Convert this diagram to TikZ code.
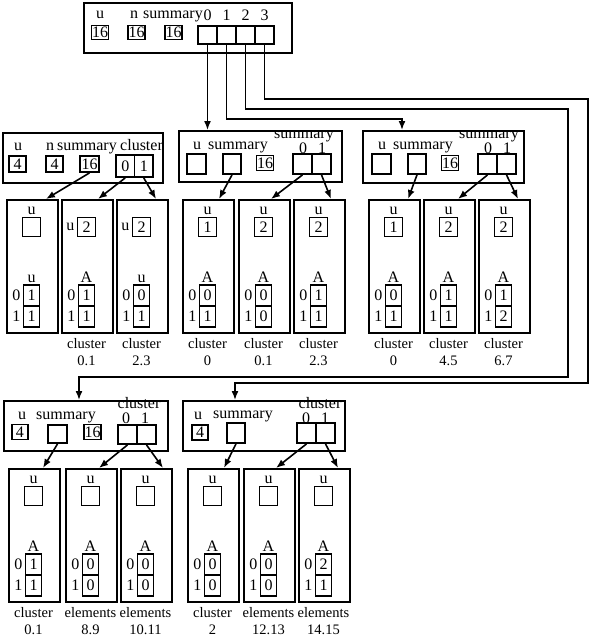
\documentclass[tikz,border=0pt]{standalone}
\usepackage{fontspec}
\setmainfont{Liberation Serif}
\usetikzlibrary{arrows.meta}

\tikzset{
  hbox/.style={draw, line width=2pt, anchor=north west, inner sep=0pt},
  cbox/.style={draw, line width=2pt, anchor=north west, inner sep=0pt,
    minimum width=51, minimum height=133},
  vbox/.style={draw, line width=1.8pt, inner sep=0pt, minimum width=18, minimum height=19},
  acell/.style={draw, line width=1.8pt, inner sep=0pt, minimum width=16, minimum height=21},
  tag/.style={inner sep=0pt},
  link/.style={-{Latex[length=9pt,width=7pt]}, line width=1.6pt}
}

% one cluster: name, left, top, u value, side of u, array title, A[0], A[1], caption
\newcommand{\clus}[9]{%
  \node[cbox] (#1) at (#2,#3) {};
  \node[vbox, label={[tag, label distance=2pt]#5:u}] (#1-u) at ({#2+25.5},{#3+28}) {#4};
  \node[acell, label={[tag, label distance=1pt]above:#6},
    label={[tag, label distance=2pt]left:0}] (#1-a0) at ({#2+25.5},{#3+96.5}) {#7};
  \node[acell, label={[tag, label distance=2pt]left:1}] (#1-a1) at ({#2+25.5},{#3+117.5}) {#8};
  \node[tag, align=center, anchor=north, font=\fontsize{14.5}{16.5}\selectfont]
    (#1-cap) at ({#2+25.5},{#3+139.5}) {#9};
}

\begin{document}
\begin{tikzpicture}[x=1pt, y=-1pt, font=\fontsize{16}{16}\selectfont]
  \useasboundingbox (0,0) rectangle (590,637);

  % top structure
  \node[hbox, minimum width=208, minimum height=50] (top) at (83,2) {};
  \node[tag, anchor=base] (top-lu) at (100,19) {u};
  \node[tag, anchor=base] (top-ln) at (134,19) {n};
  \node[tag, anchor=base] (top-ls) at (173,19) {summary};
  \node[vbox, minimum width=17, minimum height=14] (top-u) at (100,32.5) {16};
  \node[vbox, minimum width=17, minimum height=14] (top-n) at (136.5,32.5) {16};
  \node[vbox, minimum width=17, minimum height=14] (top-s) at (173.5,32.5) {16};
  \foreach \i/\x in {0/207.5, 1/226.5, 2/245.5, 3/264.5} {
    \node[vbox, minimum width=19, minimum height=18] (top-c\i) at (\x,35) {};
    \node[tag, anchor=base] (top-i\i) at (\x,20) {\i};
  }

  % left structure
  \node[hbox, minimum width=160, minimum height=50] (left) at (2,132) {};
  \node[tag, anchor=base] (left-lu) at (18,150) {u};
  \node[tag, anchor=base] (left-ln) at (50,150) {n};
  \node[tag, anchor=base west] (left-ls) at (57,150) {summary};
  \node[tag, anchor=base west] (left-lc) at (120,150) {cluster};
  \node[vbox, minimum width=17, minimum height=16] (left-u) at (17.5,164) {4};
  \node[vbox, minimum width=17, minimum height=16] (left-n) at (54.5,164) {4};
  \node[vbox, minimum width=19, minimum height=16] (left-s) at (89.5,164) {16};
  \node[vbox, minimum width=18.5, minimum height=22] (left-c0) at (125.25,166) {0};
  \node[vbox, minimum width=18.5, minimum height=22] (left-c1) at (143.75,166) {1};
  \clus{l1}{6}{199}{}{above}{u}{1}{1}{}
  \clus{l2}{61}{199}{2}{left}{A}{1}{1}{cluster\\0.1}
  \clus{l3}{116}{199}{2}{left}{u}{0}{1}{cluster\\2.3}
  \draw[link] (left-s.south) -- ([xshift=13.5]l1.north);
  \draw[link] (left-c0.south) -- ([xshift=10.5]l2.north);
  \draw[link] (left-c1.south) -- ([xshift=13.5]l3.north);

  % middle structure
  \node[hbox, minimum width=163, minimum height=51] (mid) at (178,130) {};
  \node[tag, anchor=base] (mid-lu) at (197,149) {u};
  \node[tag, anchor=base] (mid-ls) at (238,149) {summary};
  \node[tag, anchor=base] (mid-lt) at (304,138) {summary};
  \node[tag, anchor=base] (mid-i0) at (303,153.5) {0};
  \node[tag, anchor=base] (mid-i1) at (322,153.5) {1};
  \node[vbox, minimum width=19, minimum height=20] (mid-u) at (196.5,164) {};
  \node[vbox, minimum width=18, minimum height=20] (mid-s) at (232,164) {};
  \node[vbox, minimum width=17, minimum height=15] (mid-n) at (265,163) {16};
  \node[vbox, minimum width=19, minimum height=20] (mid-c0) at (302.5,164) {};
  \node[vbox, minimum width=19, minimum height=20] (mid-c1) at (321.5,164) {};
  \clus{m1}{182}{199}{1}{above}{A}{0}{1}{cluster\\0}
  \clus{m2}{238}{199}{2}{above}{A}{0}{0}{cluster\\0.1}
  \clus{m3}{293}{199}{2}{above}{A}{1}{1}{cluster\\2.3}
  \draw[link] (mid-s.south) -- ([xshift=10.5]m1.north);
  \draw[link] (mid-c0.south) -- ([xshift=6.5]m2.north);
  \draw[link] (mid-c1.south) -- ([xshift=11.5]m3.north);

  % right structure
  \node[hbox, minimum width=161, minimum height=52] (right) at (362,130) {};
  \node[tag, anchor=base] (right-lu) at (382,149) {u};
  \node[tag, anchor=base] (right-ls) at (423,149) {summary};
  \node[tag, anchor=base] (right-lt) at (489,138) {summary};
  \node[tag, anchor=base] (right-i0) at (488,153.5) {0};
  \node[tag, anchor=base] (right-i1) at (507,153.5) {1};
  \node[vbox, minimum width=19, minimum height=20] (right-u) at (381.5,164) {};
  \node[vbox, minimum width=18, minimum height=20] (right-s) at (417,164) {};
  \node[vbox, minimum width=17, minimum height=15] (right-n) at (450,163) {16};
  \node[vbox, minimum width=19, minimum height=20] (right-c0) at (487.5,164) {};
  \node[vbox, minimum width=19, minimum height=20] (right-c1) at (506.5,164) {};
  \clus{r1}{368}{199}{1}{above}{A}{0}{1}{cluster\\0}
  \clus{r2}{423}{199}{2}{above}{A}{1}{1}{cluster\\4.5}
  \clus{r3}{478}{199}{2}{above}{A}{1}{2}{cluster\\6.7}
  \draw[link] (right-s.south) -- ([xshift=13.5]r1.north);
  \draw[link] (right-c0.south) -- ([xshift=8.5]r2.north);
  \draw[link] (right-c1.south) -- ([xshift=13.5]r3.north);

  % bottom left structure
  \node[hbox, minimum width=164, minimum height=50] (botl) at (3,400) {};
  \node[tag, anchor=base] (botl-lu) at (22,419) {u};
  \node[tag, anchor=base] (botl-ls) at (66,419) {summary};
  \node[tag, anchor=base] (botl-lc) at (139,408.5) {cluster};
  \node[tag, anchor=base] (botl-i0) at (126,423) {0};
  \node[tag, anchor=base] (botl-i1) at (145,423) {1};
  \node[vbox, minimum width=16, minimum height=15] (botl-u) at (20,432) {4};
  \node[vbox, minimum width=19, minimum height=18] (botl-s) at (57.5,434) {};
  \node[vbox, minimum width=17, minimum height=15] (botl-n) at (92.5,432) {16};
  \node[vbox, minimum width=19, minimum height=19] (botl-c0) at (127.5,434.5) {};
  \node[vbox, minimum width=19, minimum height=19] (botl-c1) at (146.5,434.5) {};
  \clus{bl1}{8}{468}{}{above}{A}{1}{1}{cluster\\0.1}
  \clus{bl2}{65}{468}{}{above}{A}{0}{0}{elements\\8.9}
  \clus{bl3}{120}{468}{}{above}{A}{0}{0}{elements\\10.11}
  \draw[link] (botl-s.south) -- ([xshift=8.5]bl1.north);
  \draw[link] (botl-c0.south) -- ([xshift=7.5]bl2.north);
  \draw[link] (botl-c1.south) -- ([xshift=16.5]bl3.north);

  % bottom right structure
  \node[hbox, minimum width=162, minimum height=50] (botr) at (182,400) {};
  \node[tag, anchor=base] (botr-lu) at (198,419) {u};
  \node[tag, anchor=base] (botr-ls) at (243,418) {summary};
  \node[tag, anchor=base] (botr-lc) at (320,408.5) {cluster};
  \node[tag, anchor=base] (botr-i0) at (306,423) {0};
  \node[tag, anchor=base] (botr-i1) at (325,423) {1};
  \node[vbox, minimum width=16, minimum height=15] (botr-u) at (200,432.5) {4};
  \node[vbox, minimum width=18, minimum height=20] (botr-s) at (236,433) {};
  \node[vbox, minimum width=19, minimum height=20] (botr-c0) at (306.5,433) {};
  \node[vbox, minimum width=19, minimum height=20] (botr-c1) at (325.5,433) {};
  \clus{br1}{187}{468}{}{above}{A}{0}{0}{cluster\\2}
  \clus{br2}{243}{468}{}{above}{A}{0}{0}{elements\\12.13}
  \clus{br3}{298}{468}{}{above}{A}{2}{1}{elements\\14.15}
  \draw[link] (botr-s.south) -- ([xshift=10.5]br1.north);
  \draw[link] (botr-c0.south) -- ([xshift=6.5]br2.north);
  \draw[link] (botr-c1.south) -- ([xshift=13.5]br3.north);

  % links from the top structure
  \coordinate (k1) at (402,119);
  \coordinate (k2) at (568,109);
  \coordinate (k3) at (79,377);
  \coordinate (k4) at (588,99);
  \coordinate (k5) at (235,383);
  \draw[link] (top-c0.south) -- (top-c0.south |- mid.north);
  \draw[link] (top-c1.south) |- (k1) -- (k1 |- right.north);
  \draw[link] (top-c2.south) |- (k2) |- (k3) -- (k3 |- botl.north);
  \draw[link] (top-c3.south) |- (k4) |- (k5) -- (k5 |- botr.north);
\end{tikzpicture}
\end{document}
